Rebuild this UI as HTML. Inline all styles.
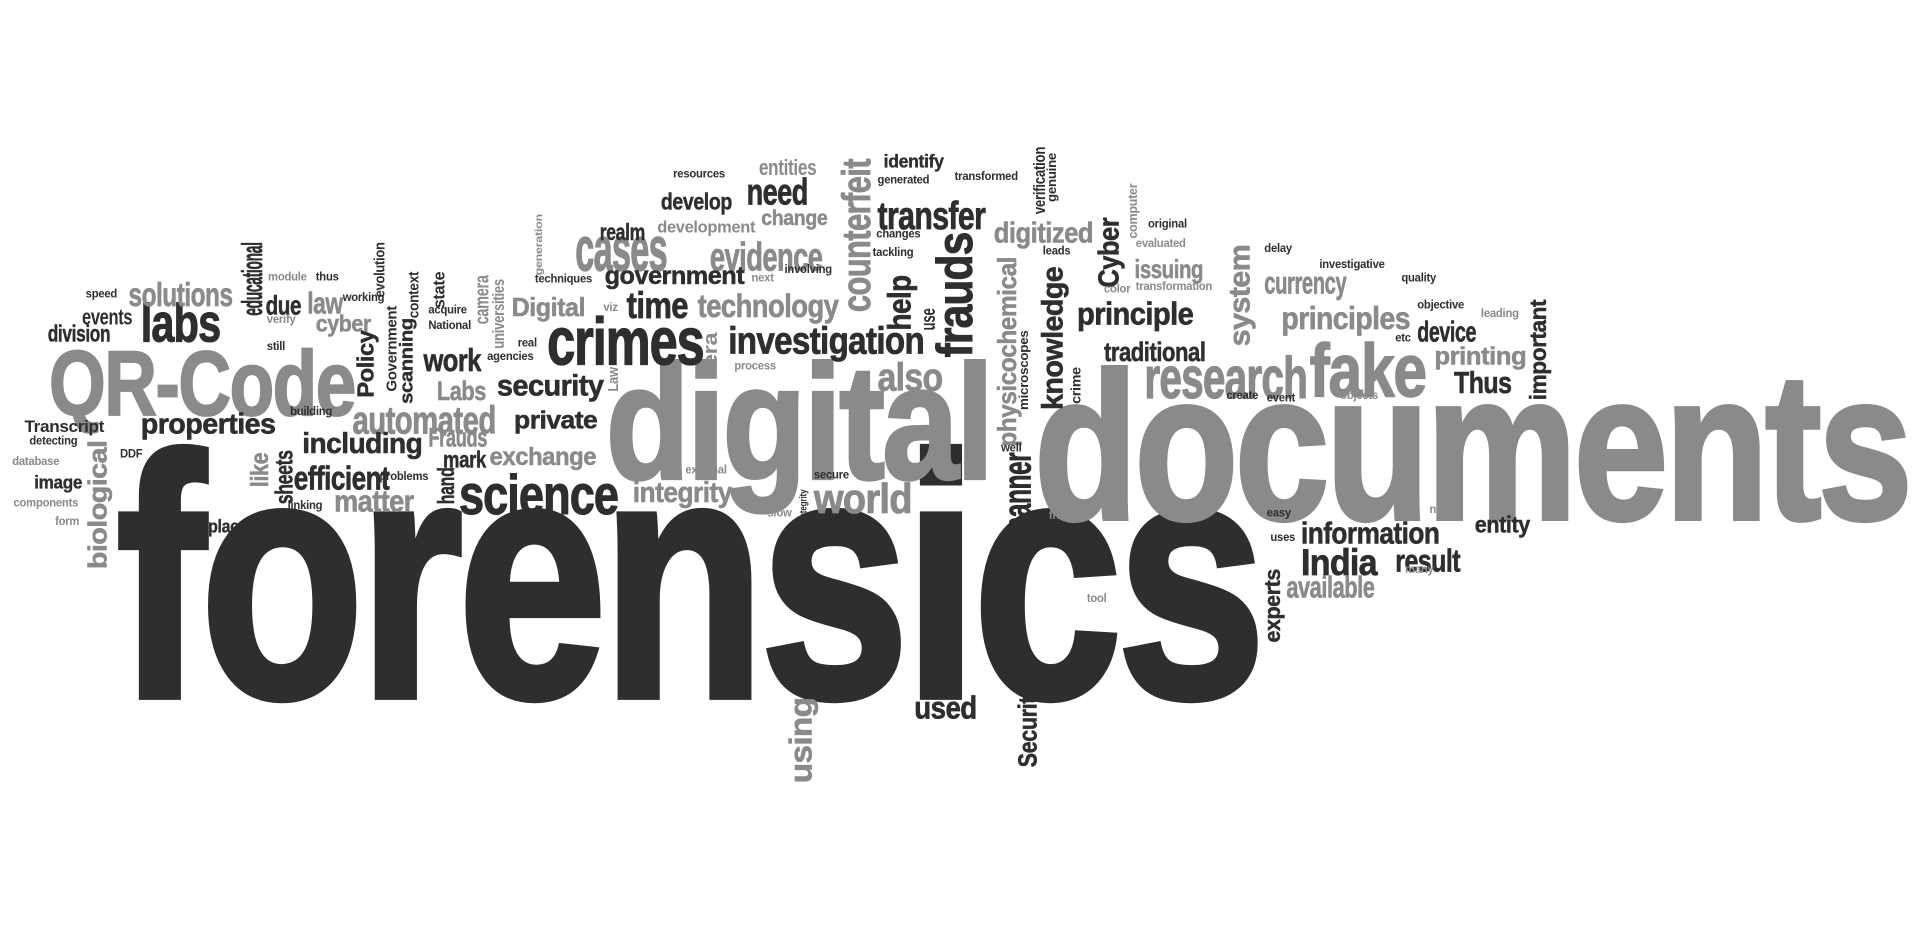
<!DOCTYPE html>
<html><head><meta charset="utf-8">
<style>
html,body{margin:0;padding:0;background:#fff;width:1919px;height:939px;overflow:hidden}
#cloud{position:absolute;left:0;top:0;width:1568px;height:767px;transform:scale(1.2239);transform-origin:0 0}
.w{position:absolute;white-space:nowrap;font-family:"Liberation Sans",sans-serif;font-weight:bold;line-height:1;transform-origin:0 0;letter-spacing:-0.02em;-webkit-text-stroke:0.02em currentColor}
.w.s{-webkit-text-stroke:0}
.d{color:#2e2e2e}.g{color:#8a8a8a}
</style></head>
<body>
<div id="cloud"></div>
<script>
// [word, x1, y1, x2, y2, color, vertical]
const bigWords = [
["forensics",95,365,1030,570,"d",0],
["documents",845,300,1560,425,"g",0],
["digital",495,295,810,420,"g",0],
["QR-Code",40,285,290,340,"g",0],
["crimes",447,258,575,298,"d",0],
["fake",1070,280,1165,325,"g",0],
["research",935,292,1068,327,"g",0],
["science",375,387,505,420,"d",0],
["labs",115,248,180,280,"d",0],
["investigation",595,268,755,297,"d",0],
["technology",570,240,685,265,"g",0],
["cases",470,195,545,222,"g",0],
["evidence",580,198,672,222,"g",0],
["transfer",717,165,805,188,"d",0],
["counterfeit",688,130,712,255,"g",1],
["frauds",765,190,795,292,"d",1],
["help",725,225,750,270,"d",1],
["knowledge",852,218,875,335,"d",1],
["physicochemical",815,210,835,365,"g",1],
["Cyber",898,178,920,235,"d",1],
["system",1005,200,1028,283,"g",1],
["important",1250,245,1268,327,"d",1],
["Security",832,560,852,627,"d",1],
["using",646,570,670,640,"g",1],
["experts",1033,465,1050,525,"d",1],
["biological",72,360,92,465,"g",1],
["educational",198,198,215,258,"d",1],
["Policy",292,270,310,325,"d",1],
["sheets",225,368,240,412,"d",1],
["like",205,370,220,398,"g",1],
["hand",358,382,372,412,"d",1],
["manner",825,370,842,440,"d",1],
["scanning",328,260,342,330,"d",1],
["also",717,297,770,320,"g",0],
["world",665,395,745,420,"g",0],
["integrity",517,394,598,416,"g",0],
["security",406,307,493,330,"d",0],
["automated",288,332,405,355,"g",0],
["properties",115,338,225,360,"d",0],
["including",247,354,345,376,"d",0],
["private",420,336,488,355,"d",0],
["exchange",400,366,487,385,"g",0],
["work",346,284,393,303,"d",0],
["solutions",105,230,190,250,"g",0],
["time",512,240,562,262,"d",0],
["government",494,218,608,237,"d",0],
["need",610,147,660,169,"d",0],
["develop",540,158,598,176,"d",0],
["change",622,172,676,188,"g",0],
["digitized",812,182,893,204,"g",0],
["principle",880,248,975,272,"d",0],
["traditional",902,280,985,296,"d",0],
["issuing",927,212,983,232,"g",0],
["currency",1033,228,1100,247,"g",0],
["principles",1047,252,1152,276,"g",0],
["device",1158,263,1206,280,"d",0],
["printing",1172,284,1247,303,"g",0],
["Thus",1188,305,1235,323,"d",0],
["information",1063,428,1176,446,"d",0],
["India",1063,450,1125,472,"d",0],
["result",1140,448,1193,467,"d",0],
["entity",1205,422,1250,440,"d",0],
["available",1051,472,1123,490,"g",0],
["used",747,568,798,587,"d",0],
["matter",273,402,338,420,"g",0],
["efficient",240,380,318,400,"d",0],
["cyber",258,258,303,276,"g",0],
["law",251,240,280,258,"g",0],
["due",217,242,246,258,"d",0],
["Digital",418,243,478,263,"g",0],
["Labs",357,312,397,328,"g",0],
["Frauds",350,350,398,366,"g",0],
["mark",362,369,397,383,"d",0],
["events",67,253,108,266,"d",0],
["division",39,266,90,280,"d",0],
["Transcript",20,344,85,357,"d",0],
["image",28,390,67,404,"d",0],
["place",170,426,202,440,"d",0],
["realm",490,183,527,197,"d",0],
["development",537,181,617,194,"g",0],
["entities",620,131,667,144,"g",0],
["identify",722,128,771,142,"d",0],
["verification",845,120,855,175,"d",1],
["genuine",856,125,866,165,"d",1],
["computer",922,150,932,195,"g",1],
["microscopes",833,270,843,335,"d",1],
["use",755,252,764,270,"d",1],
["era",577,272,586,300,"g",1],
["universities",403,228,413,285,"g",1],
["camera",390,225,399,265,"g",1],
["state",354,222,364,252,"d",1],
["context",333,222,342,260,"d",1],
["evolution",305,198,314,243,"d",1],
["Government",315,250,324,320,"d",1],
["integrity",653,400,661,425,"d",1],
["generation",437,175,445,225,"g",1],
["Law",496,300,505,320,"g",1],
["crime",876,300,884,330,"d",1]
];
// [word, x, y, color]
const smallWords = [
["resources",550,143,"d"],["generated",717,148,"d"],["transformed",780,145,"d"],
["original",938,184,"d"],["changes",716,192,"d"],["tackling",713,207,"d"],
["evaluated",928,200,"g"],["leads",852,206,"d"],["delay",1033,204,"d"],
["investigative",1078,217,"d"],["quality",1145,228,"d"],["transformation",928,235,"g"],
["color",902,237,"g"],["objective",1158,250,"d"],["leading",1210,257,"g"],
["etc",1140,277,"d"],["create",1002,324,"d"],["event",1035,326,"d"],
["objects",1095,324,"g"],["real",423,281,"d"],["agencies",398,292,"d"],
["National",350,267,"d"],["acquire",350,254,"d"],["working",280,244,"d"],
["thus",258,227,"d"],["module",219,227,"g"],["verify",218,262,"g"],
["still",218,284,"d"],["speed",70,241,"d"],["building",237,337,"d"],
["DDF",98,372,"d"],["database",10,378,"g"],["components",11,412,"g"],
["form",45,427,"g"],["detecting",24,361,"d"],["problems",310,390,"d"],
["linking",235,414,"d"],["external",560,385,"g"],["secure",665,389,"d"],
["slow",627,420,"g"],["well",818,367,"d"],["fraud",857,422,"g"],
["tool",888,490,"g"],["easy",1035,420,"d"],["uses",1038,440,"d"],
["new",1168,417,"g"],["many",1148,466,"g"],["process",600,300,"g"],
["viz",493,252,"g"],["techniques",437,229,"d"],["involving",641,221,"d"],
["next",614,228,"g"]
];
const cloud = document.getElementById('cloud');
const BASE = 0.8465;
function mk(txt, cls){
  const s = document.createElement('span');
  s.className = 'w ' + cls;
  s.textContent = txt;
  
  
  cloud.appendChild(s);
  return s;
}
bigWords.forEach(function(w){
  const vert = w[6];
  const L = vert ? (w[4]-w[2]) : (w[3]-w[1]);
  const H = vert ? (w[3]-w[1]) : (w[4]-w[2]);
  const s = mk(w[0], w[5] + (H < 14 ? ' s' : ''));
  const asc = /[bdfhiklt A-Z]/.test(w[0]) ? 0.73 : 0.53;
  const desc = /[gjpqy]/.test(w[0]) ? 0.21 : 0;
  const fs = H / (asc + desc);
  s.style.fontSize = fs + 'px';
  const nat = s.getBoundingClientRect().width / 1.2239;
  const sx = L / nat;
  const off = (BASE - asc) * fs;
  if(vert){
    s.style.left = (w[1] - off) + 'px';
    s.style.top = w[4] + 'px';
    s.style.transform = 'rotate(-90deg) scale(' + sx + ',1)';
  } else {
    s.style.left = w[1] + 'px';
    s.style.top = (w[2] - off) + 'px';
    s.style.transform = 'scale(' + sx + ',1)';
  }
});
smallWords.forEach(function(w){
  const s = mk(w[0], w[3] + ' s');
  s.style.fontSize = '10px';
  s.style.left = w[1] + 'px';
  s.style.top = (w[2]-5) + 'px';
  s.style.transform = 'scale(0.92,1)';
});
</script>
</body></html>
